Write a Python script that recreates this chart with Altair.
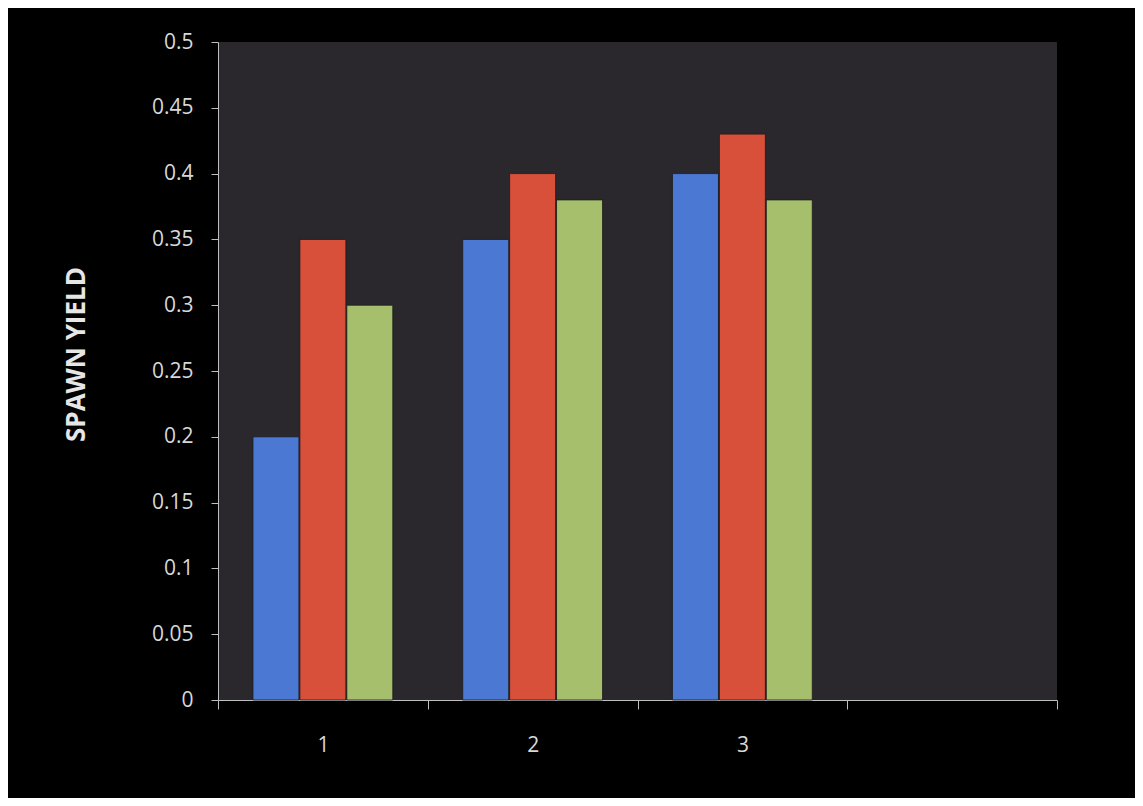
import altair as alt
import pandas as pd

categories = ["1", "2", "3"]
series = ["S1", "S2", "S3"]
s1 = [0.20, 0.35, 0.40]
s2 = [0.35, 0.40, 0.43]
s3 = [0.30, 0.38, 0.38]
colors = ["#4a78d2", "#d8503a", "#a6bf6c"]
y_ticks = [0, 0.05, 0.1, 0.15, 0.2, 0.25, 0.3, 0.35, 0.4, 0.45, 0.5]

rows = []
for vals, s in zip([s1, s2, s3], series):
    for c, v in zip(categories, vals):
        rows.append({"cat": c, "series": s, "value": v})
df = pd.DataFrame(rows)

chart = alt.Chart(df).mark_bar(stroke="#1a1a1a", strokeWidth=0.8).encode(
    x=alt.X("cat:N", scale=alt.Scale(domain=["1", "2", "3", "4"], paddingInner=0, paddingOuter=0),
            axis=alt.Axis(title=None, labelAngle=0, tickBand="extent", labelExpr="datum.value == '4' ? '' : datum.value",
                          labelColor="#d8d8d8", labelFontSize=21, labelPadding=25, tickSize=9,
                          tickColor="#bfbfbf", domainColor="#bfbfbf", labelFont="Open Sans")),
    xOffset=alt.XOffset("series:N", scale=alt.Scale(domain=series, paddingInner=0.02, paddingOuter=0.745)),
    y=alt.Y("value:Q", scale=alt.Scale(domain=[0, 0.5], nice=False),
            axis=alt.Axis(title="SPAWN YIELD", values=y_ticks, format=".2~f", grid=False, labelColor="#d8d8d8",
                          labelFontSize=21, labelPadding=18, tickSize=7, tickColor="#bfbfbf", domainColor="#bfbfbf",
                          labelFont="Open Sans", titleFont="Open Sans", titleColor="#e6e6e6", titleFontSize=26,
                          titleFontWeight="bold", titleAngle=-90, titleX=-142, titleY=312,
                          titleAlign="center", titleBaseline="middle")),
    color=alt.Color("series:N", scale=alt.Scale(domain=series, range=colors), legend=None),
).properties(
    width=839, height=658,
    background="#000000",
    autosize=alt.AutoSizeParams(type="none"),
    padding={"left": 210, "top": 34, "right": 78, "bottom": 98},
).configure_view(fill="#2a282c", stroke=None)

chart.save("out.html", embed_options={"renderer": "svg", "actions": False})
